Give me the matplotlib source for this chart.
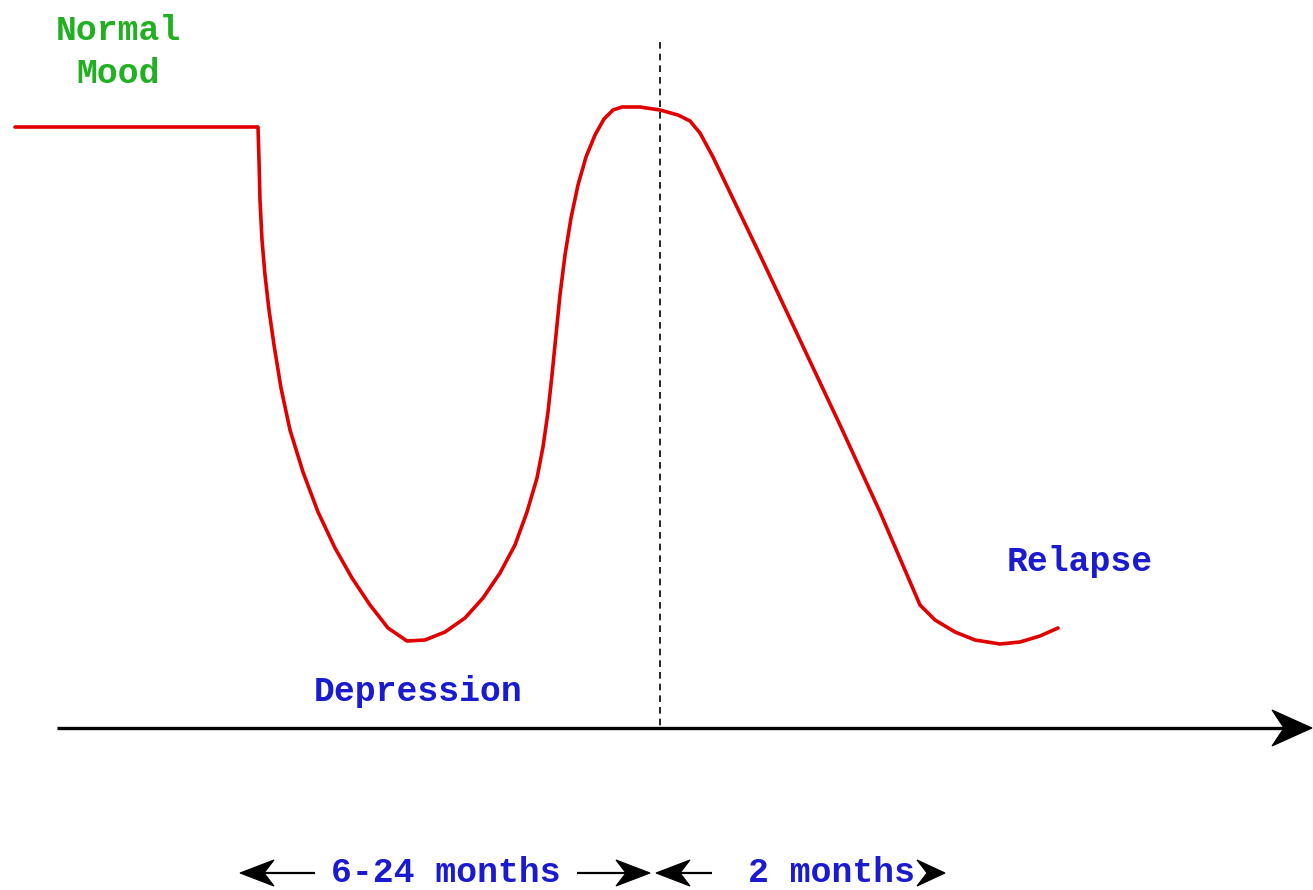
import matplotlib
matplotlib.use("Agg")
import matplotlib.pyplot as plt
from matplotlib.patches import Polygon

# Mood curve (time, mood level in image units; y grows downward)
time = [15, 258, 259, 260, 262, 265, 269, 274, 281, 290, 303, 318, 335, 352, 370, 388, 407, 425, 445, 465,
        483, 500, 515, 527, 537, 543, 548, 552, 556, 560, 565, 571, 578, 586, 595, 604, 613, 622, 640, 660,
        678, 690, 700, 713, 760, 800, 840, 880, 920, 935, 955, 975, 1000, 1020, 1040, 1058]
mood = [127, 127, 160, 200, 240, 275, 310, 345, 388, 430, 472, 512, 548, 578, 605, 628, 641, 640, 632, 618,
        598, 573, 545, 512, 478, 447, 412, 375, 335, 295, 255, 218, 185, 157, 135, 119, 110, 107, 107, 110,
        115, 121, 133, 157, 255, 340, 425, 512, 605, 620, 632, 640, 644, 642, 636, 628]

state_labels = ["Normal\nMood", "Depression", "Relapse"]
period_labels = ["6-24 months", "2 months"]
treatment_stop = 660

fig = plt.figure(figsize=(13.13, 8.90), dpi=100)
ax = fig.add_axes([0, 0, 1, 1])
ax.set_xlim(0, 1313)
ax.set_ylim(890, 0)
ax.axis("off")


def arrow(x0, x1, y, L=34, W=13, N=10, lw=1.6):
    """shaft from x0 to tip x1 with a notched filled head"""
    d = 1 if x1 > x0 else -1
    ax.plot([x0, x1 - d * (L - N)], [y, y], color="black", lw=lw, solid_capstyle="butt")
    pts = [(x1, y), (x1 - d * L, y - W), (x1 - d * (L - N), y), (x1 - d * L, y + W)]
    ax.add_patch(Polygon(pts, closed=True, facecolor="black", edgecolor="black", lw=0.8))


ax.plot(time, mood, color="#e10000", lw=2.6, solid_joinstyle="round", solid_capstyle="round")

# time axis
arrow(57, 1312, 728, L=40, W=18, N=12, lw=2.4)
# dashed line
ax.plot([treatment_stop, treatment_stop], [42, 728], color="black", lw=1.2, ls=(0, (4, 3)))

font = dict(family="Liberation Mono", fontweight="bold", fontsize=25)
ax.text(118, 52, state_labels[0], color="#22b022", ha="center", va="center", linespacing=1.35, **font)
ax.text(418, 692, state_labels[1], color="#1a1ad0", ha="center", va="center", **font)
ax.text(1080, 562, state_labels[2], color="#1a1ad0", ha="center", va="center", **font)

ax.text(446, 873, period_labels[0], color="#1a1ad0", ha="center", va="center", **font)
ax.text(831, 873, period_labels[1], color="#1a1ad0", ha="center", va="center", **font)

arrow(315, 240, 873)
arrow(577, 650, 873)
arrow(712, 656, 873)
arrow(926, 945, 873, L=28)

fig.savefig("out.png", dpi=100, facecolor="white")
